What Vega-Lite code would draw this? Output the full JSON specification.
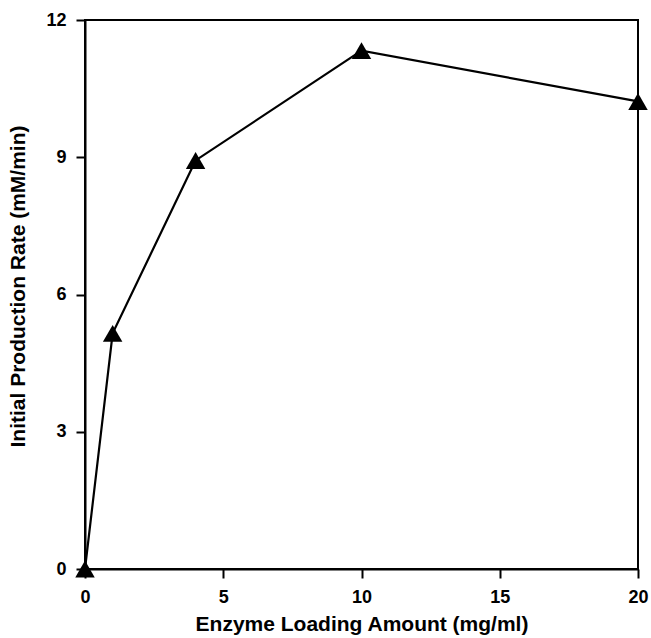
{
  "$schema": "https://vega.github.io/schema/vega-lite/v6.json",
  "autosize": "none",
  "width": 553,
  "height": 549,
  "padding": {"left": 85, "top": 20, "right": 13, "bottom": 69},
  "background": "white",
  "config": {
    "view": {"stroke": "black", "strokeWidth": 2},
    "font": "Liberation Sans",
    "axis": {
      "grid": false,
      "domainColor": "black",
      "domainWidth": 2,
      "tickColor": "black",
      "tickWidth": 2,
      "tickSize": 9,
      "labelFont": "Liberation Sans",
      "labelFontSize": 18,
      "labelFontWeight": "bold",
      "labelColor": "black",
      "titleFont": "Liberation Sans",
      "titleFontWeight": "bold",
      "titleColor": "black"
    }
  },
  "data": {
    "values": [
      {"enzyme": 0, "rate": 0},
      {"enzyme": 1, "rate": 5.15},
      {"enzyme": 4, "rate": 8.93},
      {"enzyme": 10, "rate": 11.33},
      {"enzyme": 20, "rate": 10.22}
    ]
  },
  "encoding": {
    "x": {
      "field": "enzyme",
      "type": "quantitative",
      "scale": {"domain": [0, 20], "nice": false},
      "axis": {"values": [0, 5, 10, 15, 20], "title": "Enzyme Loading Amount (mg/ml)", "titleFontSize": 21, "labelFontSize": 18, "labelPadding": 10, "titlePadding": 7, "labelFlush": false}
    },
    "y": {
      "field": "rate",
      "type": "quantitative",
      "scale": {"domain": [0, 12], "nice": false},
      "axis": {"values": [0, 3, 6, 9, 12], "title": "Initial Production Rate (mM/min)", "titleFontSize": 21, "labelFontSize": 18, "labelPadding": 10, "titlePadding": 17, "titleY": 266, "labelFlush": false}
    }
  },
  "layer": [
    {"mark": {"type": "line", "color": "black", "strokeWidth": 2.2, "clip": false}},
    {"mark": {"type": "point", "shape": "triangle-up", "filled": true, "color": "black", "opacity": 1, "size": 380, "clip": false}}
  ]
}
